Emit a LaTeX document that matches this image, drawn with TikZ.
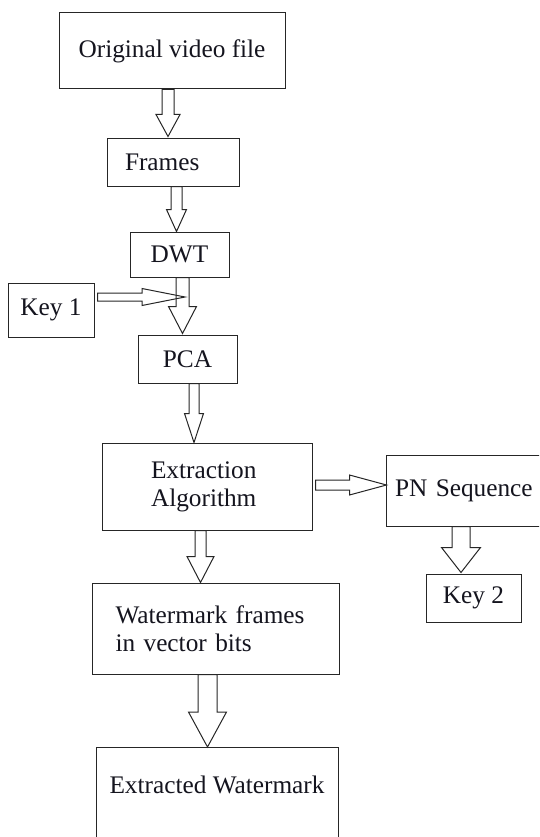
\documentclass[tikz,border=0pt]{standalone}
\usepackage{fontspec}
\setmainfont{Liberation Serif}
\usepackage{xcolor}
\definecolor{cEdge}{RGB}{38,38,38}
\definecolor{cText}{RGB}{20,20,30}
\usepackage{tikz}
\usetikzlibrary{calc, positioning}

% hollow block arrow: [opts]{from}{to}{shaft half-width}{head half-width}{head length}
\newcommand{\blockarrow}[6][]{%
  \draw[barr,#1] ($(#2)!#4!90:(#3)$)
    -- ($($(#3)!#6!(#2)$)!#4!-90:(#2)$)
    -- ($($(#3)!#6!(#2)$)!#5!-90:(#2)$)
    -- (#3)
    -- ($($(#3)!#6!(#2)$)!#5!90:(#2)$)
    -- ($($(#3)!#6!(#2)$)!#4!90:(#2)$)
    -- ($(#2)!#4!-90:(#3)$) -- cycle;}

\begin{document}
\begin{tikzpicture}[x=1pt, y=-1pt, line width=1pt,
    font=\fontsize{25.3}{28}\selectfont,
    blk/.style={draw=cEdge, text=cText, inner sep=3pt},
    barr/.style={draw=cEdge, fill=white, line width=1pt, line join=miter}]
    \useasboundingbox (0,0) rectangle (539,837);
    \clip (0,0) rectangle (539,837);

    % ---------- boxes ----------
    \node[blk, minimum width=226pt, minimum height=76pt] (orig) at (172,51) {Original video file};
    \node[blk, text width=96pt, inner xsep=18pt, align=left, minimum height=47pt] (frames) at (173,162.5) {Frames};
    \node[blk, minimum width=99pt, minimum height=45pt] (dwt) at (179.5,254.5) {DWT};
    \node[blk, minimum width=86pt, minimum height=54pt] (key1) at (51,310) {Key 1};
    \node[blk, minimum width=99pt, minimum height=48pt] (pca) at (187.5,359) {PCA};
    \node[blk, text width=112pt, inner xsep=49pt, align=left, minimum height=87pt] (extr) at (207,486.5)
      {Extraction\\Algorithm};
    \node[blk, text width=150pt, inner xsep=9pt, align=left, minimum height=71pt] (pn) at (470,490.5) {PN Sequence};
    \node[blk, minimum width=95pt, minimum height=48pt] (key2) at (473.5,598) {Key 2};
    \node[blk, text width=200pt, inner xsep=23.5pt, align=left, minimum height=91pt] (wm) at (215.5,628.5)
      {Watermark frames\\in vector bits};
    \node[blk, anchor=north, minimum width=242pt, inner ysep=28pt, text depth=80pt] (extracted) at (217,747)
      {Extracted Watermark};

    % ---------- block arrows ----------
    \blockarrow{$(orig.south)+(-4,0)$}{$(frames.north)+(-5,-2)$}{6pt}{12pt}{22pt}
    \blockarrow{$(frames.south)+(3.5,0)$}{$(dwt.north)+(-3,0)$}{5.5pt}{10pt}{22pt}
    \blockarrow{$(dwt.south)+(3,0)$}{$(pca.north)+(-5,-1)$}{6.5pt}{14pt}{27pt}
    \coordinate (k1end) at (185,297);
    \blockarrow[fill=none]{$(key1.east)+(3,-13)$}{k1end}{4pt}{8.5pt}{43pt}
    \blockarrow{$(pca.south)+(6.5,0)$}{$(extr.north)+(-13,0)$}{5pt}{9.5pt}{29pt}
    \blockarrow{$(extr.east)+(3,-1.5)$}{$(pn.west)+(1,-5.5)$}{5pt}{10pt}{37pt}
    \blockarrow{$(pn.south)+(-9,0)$}{$(key2.north)+(-12.5,-1)$}{9pt}{19.5pt}{25pt}
    \blockarrow{$(extr.south)+(-6.5,0)$}{$(wm.north)+(-15,0)$}{5.5pt}{13.5pt}{26pt}
    \blockarrow{$(wm.south)+(-8,0)$}{$(extracted.north)+(-9.5,0)$}{9.5pt}{19pt}{35pt}

\end{tikzpicture}
\end{document}
